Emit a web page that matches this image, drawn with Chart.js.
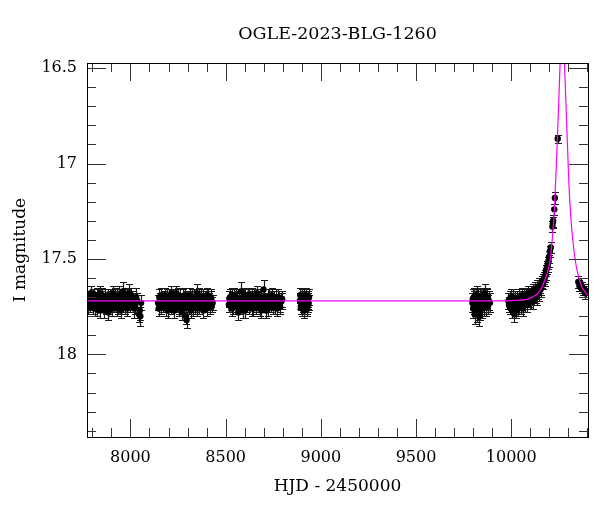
<!DOCTYPE html>
<html>
<head>
<meta charset="utf-8">
<script src="https://cdn.jsdelivr.net/npm/chart.js@4.4.0/dist/chart.umd.min.js"></script>
<style>
  html, body { margin: 0; padding: 0; background: #fff; }
</style>
</head>
<body>
<canvas id="lc" width="600" height="512"></canvas>
<script>
// OGLE light curve
const chartTitle = "OGLE-2023-BLG-1260";
const xMajor = [8000, 8500, 9000, 9500, 10000];
const yMajor = [16.5, 17, 17.5, 18];

// [HJD - 2450000, I mag, error]
const season1 = [
  [7776,17.72,.04],[7783,17.70,.03],[7789,17.74,.04],[7796,17.71,.04],[7802,17.75,.04],
  [7809,17.69,.03],[7815,17.73,.04],[7822,17.76,.04],[7828,17.70,.04],[7835,17.72,.03],
  [7842,17.68,.04],[7848,17.74,.04],[7855,17.71,.03],[7861,17.77,.04],[7868,17.70,.04],
  [7874,17.73,.04],[7881,17.69,.03],[7888,17.75,.04],[7894,17.71,.04],[7901,17.72,.03],
  [7907,17.68,.04],[7914,17.74,.04],[7921,17.70,.04],[7927,17.76,.04],[7934,17.72,.03],
  [7940,17.69,.05],[7947,17.74,.04],[7953,17.71,.04],[7960,17.67,.05],[7967,17.73,.04],
  [7973,17.75,.04],[7980,17.70,.04],[7986,17.72,.05],[7993,17.68,.05],[8000,17.74,.04],
  [8010,17.71,.04],[8020,17.76,.05],[8030,17.70,.05],[8045,17.79,.04],[8052,17.80,.05],
  [8056,17.73,.04],
  [7779,17.75,.04],[7786,17.71,.04],[7792,17.68,.04],[7799,17.73,.04],[7805,17.70,.04],
  [7812,17.76,.04],[7818,17.72,.04],[7825,17.69,.04],[7831,17.74,.04],[7838,17.77,.04],
  [7845,17.71,.04],[7851,17.69,.04],[7858,17.73,.04],[7864,17.70,.04],[7871,17.75,.04],
  [7877,17.72,.04],[7884,17.78,.04],[7891,17.70,.04],[7897,17.74,.04],[7904,17.76,.04],
  [7910,17.71,.04],[7917,17.69,.04],[7924,17.73,.04],[7930,17.70,.04],[7937,17.75,.04],
  [7944,17.72,.04],[7950,17.77,.04],[7957,17.70,.04],[7963,17.74,.04],[7970,17.69,.04],
  [7976,17.72,.04],[7983,17.76,.04],[7990,17.71,.04],[7996,17.73,.04],[8004,17.69,.04],
  [8015,17.73,.04],[8025,17.75,.04],[8036,17.72,.04],[8049,17.77,.05]
];
const season2 = [
  [8145,17.73,.04],[8152,17.70,.04],[8159,17.75,.04],[8166,17.71,.03],[8173,17.74,.04],
  [8180,17.69,.04],[8187,17.76,.04],[8194,17.72,.03],[8201,17.70,.04],[8208,17.74,.04],
  [8215,17.68,.04],[8222,17.73,.04],[8229,17.77,.04],[8236,17.71,.03],[8243,17.74,.04],
  [8250,17.69,.04],[8257,17.75,.04],[8264,17.72,.04],[8271,17.78,.04],[8278,17.70,.04],
  [8285,17.73,.04],[8292,17.80,.04],[8299,17.71,.04],[8306,17.75,.04],[8313,17.69,.04],
  [8320,17.73,.04],[8327,17.76,.04],[8334,17.70,.04],[8341,17.74,.04],[8348,17.68,.05],
  [8355,17.72,.04],[8362,17.75,.04],[8369,17.70,.04],[8376,17.73,.04],[8383,17.77,.04],
  [8390,17.71,.04],[8397,17.74,.04],[8404,17.69,.04],[8411,17.72,.04],[8418,17.75,.04],
  [8425,17.71,.04],[8432,17.73,.04],
  [8148,17.76,.04],[8155,17.72,.04],[8162,17.69,.04],[8169,17.74,.04],[8176,17.71,.04],
  [8183,17.73,.04],[8190,17.70,.04],[8197,17.77,.04],[8204,17.72,.04],[8211,17.75,.04],
  [8218,17.71,.04],[8225,17.70,.04],[8232,17.74,.04],[8239,17.68,.04],[8246,17.72,.04],
  [8253,17.76,.04],[8260,17.70,.04],[8267,17.74,.04],[8274,17.72,.04],[8281,17.76,.04],
  [8288,17.69,.04],[8295,17.82,.04],[8302,17.73,.04],[8309,17.71,.04],[8316,17.77,.04],
  [8323,17.70,.04],[8330,17.73,.04],[8337,17.75,.04],[8344,17.71,.04],[8351,17.76,.04],
  [8358,17.69,.04],[8365,17.73,.04],[8372,17.71,.04],[8379,17.70,.04],[8386,17.74,.04],
  [8393,17.72,.04],[8400,17.76,.04],[8407,17.70,.04],[8414,17.73,.04],[8421,17.70,.04],
  [8428,17.74,.04]
];
const season3 = [
  [8517,17.74,.04],[8524,17.70,.04],[8531,17.76,.04],[8538,17.72,.04],[8545,17.69,.04],
  [8552,17.75,.04],[8559,17.71,.04],[8566,17.78,.04],[8573,17.73,.04],[8580,17.67,.05],
  [8587,17.74,.04],[8594,17.70,.04],[8601,17.77,.04],[8608,17.72,.04],[8615,17.69,.04],
  [8622,17.75,.04],[8629,17.71,.04],[8636,17.76,.04],[8643,17.73,.04],[8650,17.70,.04],
  [8657,17.74,.04],[8664,17.68,.04],[8671,17.72,.04],[8678,17.76,.04],[8685,17.71,.04],
  [8692,17.74,.04],[8699,17.66,.05],[8706,17.73,.04],[8713,17.77,.04],[8720,17.70,.04],
  [8727,17.74,.04],[8734,17.72,.04],[8741,17.69,.04],[8748,17.75,.04],[8755,17.71,.04],
  [8762,17.73,.04],[8769,17.76,.04],[8776,17.70,.04],[8783,17.74,.04],[8790,17.72,.04],
  [8797,17.71,.04],
  [8520,17.71,.04],[8527,17.73,.04],[8534,17.69,.04],[8541,17.75,.04],[8548,17.72,.04],
  [8555,17.70,.04],[8562,17.74,.04],[8569,17.71,.04],[8576,17.75,.04],[8583,17.72,.04],
  [8590,17.77,.04],[8597,17.73,.04],[8604,17.69,.04],[8611,17.74,.04],[8618,17.72,.04],
  [8625,17.70,.04],[8632,17.73,.04],[8639,17.69,.04],[8646,17.76,.04],[8653,17.72,.04],
  [8660,17.75,.04],[8667,17.71,.04],[8674,17.74,.04],[8681,17.70,.04],[8688,17.77,.04],
  [8695,17.72,.04],[8702,17.70,.04],[8709,17.74,.04],[8716,17.72,.04],[8723,17.76,.04],
  [8730,17.70,.04],[8737,17.74,.04],[8744,17.71,.04],[8751,17.73,.04],[8758,17.75,.04],
  [8765,17.70,.04],[8772,17.73,.04],[8779,17.71,.04],[8786,17.75,.04],[8794,17.72,.04]
];
const season4 = [
  [8890,17.72,.04],[8895,17.75,.04],[8899,17.70,.04],[8904,17.74,.04],[8908,17.71,.04],
  [8913,17.77,.04],[8917,17.73,.04],[8921,17.69,.04],[8926,17.75,.04],[8930,17.72,.04],
  [8934,17.74,.04],[8938,17.70,.04],
  [8892,17.69,.04],[8897,17.73,.04],[8901,17.76,.04],[8906,17.72,.04],[8911,17.70,.04],
  [8915,17.74,.04],[8919,17.71,.04],[8924,17.73,.04],[8928,17.76,.04],[8932,17.71,.04],
  [8936,17.73,.04]
];
const season5 = [
  [9796,17.73,.05],[9800,17.76,.05],[9804,17.70,.05],[9808,17.79,.05],[9812,17.72,.05],
  [9816,17.75,.05],[9820,17.69,.05],[9824,17.77,.05],[9828,17.73,.05],[9832,17.80,.05],
  [9836,17.71,.05],[9840,17.74,.05],[9845,17.76,.05],[9850,17.70,.05],[9855,17.73,.04],
  [9860,17.68,.05],[9865,17.75,.05],[9870,17.71,.05],[9876,17.74,.05],[9882,17.72,.05],
  [9888,17.73,.05],
  [9798,17.71,.05],[9802,17.74,.05],[9806,17.72,.05],[9810,17.75,.05],[9814,17.70,.05],
  [9818,17.78,.05],[9822,17.73,.05],[9826,17.70,.05],[9830,17.75,.05],[9834,17.72,.05],
  [9838,17.77,.05],[9842,17.71,.05],[9848,17.74,.05],[9852,17.72,.05],[9858,17.75,.05],
  [9863,17.71,.05],[9868,17.73,.05],[9873,17.70,.05]
];
const season6 = [
  [9985,17.72,.04],[9992,17.75,.04],[9998,17.70,.04],[10004,17.77,.04],[10010,17.73,.04],
  [10016,17.79,.04],[10022,17.71,.04],[10028,17.74,.04],[10034,17.76,.04],[10040,17.70,.04],
  [10046,17.73,.04],[10052,17.75,.04],[10058,17.69,.04],[10064,17.72,.04],[10070,17.74,.04],
  [10076,17.70,.04],[10082,17.72,.04],[10088,17.68,.04],[10094,17.71,.04],[10100,17.69,.04],
  [10106,17.72,.04],[10112,17.67,.04],[10118,17.70,.04],[10124,17.66,.04],[10130,17.69,.04],
  [10136,17.65,.04],[10142,17.67,.04],[10148,17.64,.04],[10154,17.66,.04],[10160,17.62,.03],
  [10166,17.63,.03],[10172,17.60,.03],[10178,17.59,.03],[10183,17.56,.03],[10188,17.54,.03],
  [10193,17.52,.03],[10198,17.49,.03],[10203,17.46,.03],[10207,17.44,.03],[10216,17.33,.03],
  [10218,17.31,.03],[10220,17.30,.03],[10226,17.24,.03],[10229,17.18,.03],[10244,16.87,.02],
  [9988,17.74,.04],[9995,17.71,.04],[10001,17.73,.04],[10007,17.70,.04],[10013,17.75,.04],
  [10019,17.72,.04],[10025,17.77,.04],[10031,17.71,.04],[10037,17.73,.04],[10043,17.75,.04],
  [10049,17.71,.04],[10055,17.73,.04],[10061,17.76,.04],[10067,17.70,.04],[10073,17.72,.04],
  [10079,17.69,.04],[10085,17.74,.04],[10091,17.70,.04],[10097,17.72,.04],[10103,17.68,.04],
  [10109,17.70,.04],[10115,17.72,.04],[10121,17.68,.04],[10127,17.67,.04],[10133,17.70,.04],
  [10139,17.66,.04],[10145,17.68,.04],[10151,17.64,.04],[10157,17.65,.04],[10163,17.63,.03],
  [10169,17.61,.03],[10175,17.61,.03],[10181,17.58,.03],[10186,17.55,.03],[10191,17.54,.03],
  [10196,17.51,.03]
];
const season7 = [
  [10352,17.62,.03],[10358,17.64,.03],[10364,17.63,.03],[10370,17.65,.03],
  [10376,17.66,.03],[10382,17.66,.03],[10388,17.68,.03],[10394,17.67,.03]
];

// magenta model curve
const modelHjd = [7772, 9900, 10000, 10080, 10110, 10140, 10165, 10180, 10190, 10205,
  10215, 10225, 10235, 10243, 10250, 10257, 10263, 10268, 10273, 10279, 10287, 10295,
  10303, 10312, 10322, 10335, 10350, 10370, 10400];
const modelMag = [17.72, 17.72, 17.718, 17.712, 17.70, 17.68, 17.64, 17.60, 17.57, 17.50,
  17.40, 17.27, 17.05, 16.85, 16.66, 16.46, 16.33, 16.28, 16.33, 16.46, 16.68, 16.90,
  17.11, 17.27, 17.39, 17.50, 17.58, 17.645, 17.69];

const points = [];
[season1, season2, season3, season4, season5, season6, season7].forEach(function (s) {
  s.forEach(function (p) { points.push({ x: p[0], y: p[1], err: p[2] }); });
});
const model = modelHjd.map(function (h, i) { return { x: h, y: modelMag[i] }; });

const serif = "'DejaVu Serif', serif";

const errorBars = {
  id: "errorBars",
  beforeDatasetsDraw(chart) {
    const ctx = chart.ctx, xs = chart.scales.x, ys = chart.scales.y, a = chart.chartArea;
    ctx.save();
    ctx.beginPath();
    ctx.rect(a.left, a.top, a.right - a.left, a.bottom - a.top);
    ctx.clip();
    ctx.beginPath();
    ctx.strokeStyle = "#1a1a1a";
    ctx.lineWidth = 1.2;
    points.forEach(function (p) {
      const px = Math.round(xs.getPixelForValue(p.x)) + 0.5;
      const y1 = Math.round(ys.getPixelForValue(p.y - p.err)) + 0.5;
      const y2 = Math.round(ys.getPixelForValue(p.y + p.err)) + 0.5;
      ctx.moveTo(px, y1); ctx.lineTo(px, y2);
      ctx.moveTo(px - 3.5, y1); ctx.lineTo(px + 3.5, y1);
      ctx.moveTo(px - 3.5, y2); ctx.lineTo(px + 3.5, y2);
    });
    ctx.stroke();
    ctx.restore();
  }
};

// frame with inward ticks on all four sides
const frameTicks = {
  id: "frameTicks",
  afterDatasetsDraw(chart) {
    const ctx = chart.ctx, xs = chart.scales.x, ys = chart.scales.y, a = chart.chartArea;
    ctx.save();
    ctx.strokeStyle = "#333";
    ctx.lineWidth = 1;
    ctx.beginPath();
    for (let v = 7800; v <= 10400; v += 100) {
      const px = Math.round(xs.getPixelForValue(v)) + 0.5;
      const len = xMajor.includes(v) ? 18 : 9;
      ctx.moveTo(px, a.bottom); ctx.lineTo(px, a.bottom - len);
      ctx.moveTo(px, a.top); ctx.lineTo(px, a.top + len);
    }
    for (let i = 0; i <= 19; i++) {
      const v = 16.5 + i * 0.1;
      const py = Math.round(ys.getPixelForValue(v)) + 0.5;
      const len = (i % 5 === 0) ? 19 : 9;
      ctx.moveTo(a.left, py); ctx.lineTo(a.left + len, py);
      ctx.moveTo(a.right, py); ctx.lineTo(a.right - len, py);
    }
    ctx.stroke();
    ctx.strokeStyle = "#000";
    ctx.strokeRect(Math.round(a.left) + 0.5, Math.round(a.top) + 0.5,
      Math.round(a.right - a.left), Math.round(a.bottom - a.top));
    ctx.restore();
  }
};

new Chart(document.getElementById("lc").getContext("2d"), {
  type: "scatter",
  data: {
    datasets: [{
      type: "line",
      label: "model",
      data: model,
      borderColor: "#ff00ff",
      borderWidth: 1.2,
      pointRadius: 0,
      cubicInterpolationMode: "monotone",
      fill: false,
      clip: 0,
      order: 0
    }, {
      label: "OGLE",
      data: points,
      pointRadius: 3.2,
      pointBackgroundColor: "#000",
      pointBorderColor: "#000",
      pointBorderWidth: 0,
      clip: 0,
      order: 1
    }]
  },
  options: {
    responsive: false,
    devicePixelRatio: 1,
    animation: false,
    layout: { padding: { right: 12, left: 0, bottom: 0 } },
    plugins: {
      legend: { display: false },
      tooltip: { enabled: false },
      title: {
        display: true,
        text: chartTitle,
        color: "#000",
        fullSize: false,
        font: { family: serif, size: 17.5, weight: "normal" },
        padding: { top: 24, bottom: 18 }
      }
    },
    scales: {
      x: {
        type: "linear",
        min: 7772,
        max: 10403,
        grid: { display: false, drawTicks: false },
        border: { display: false },
        afterBuildTicks: function (s) { s.ticks = xMajor.map(function (v) { return { value: v }; }); },
        afterFit: function (s) { s.height = 75; },
        ticks: {
          color: "#000", padding: 11, font: { family: serif, size: 16 }, autoSkip: false, maxRotation: 0,
          callback: function (v) { return String(v); }
        },
        title: { display: true, text: "HJD - 2450000", color: "#000", font: { family: serif, size: 17 }, padding: { top: 0, bottom: 15 } }
      },
      y: {
        type: "linear",
        reverse: true,
        min: 16.473,
        max: 18.433,
        grid: { display: false, drawTicks: false },
        border: { display: false },
        afterBuildTicks: function (s) { s.ticks = yMajor.map(function (v) { return { value: v }; }); },
        afterFit: function (s) { s.width = 87; },
        ticks: {
          color: "#000", padding: 10, font: { family: serif, size: 16 }, autoSkip: false,
          callback: function (v) { return String(v); }
        },
        title: { display: true, text: "I magnitude", color: "#000", font: { family: serif, size: 17 }, padding: { top: 10, bottom: 0 } }
      }
    }
  },
  plugins: [errorBars, frameTicks]
});
</script>
</body>
</html>
